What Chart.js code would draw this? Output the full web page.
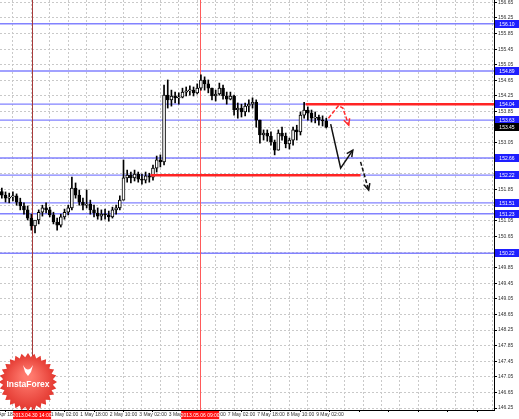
<!DOCTYPE html>
<html>
<head>
<meta charset="utf-8">
<script src="https://cdn.jsdelivr.net/npm/chart.js@4.4.0/dist/chart.umd.min.js"></script>
<style>
  html, body { margin: 0; padding: 0; background: #fff; }
  canvas { display: block; }
</style>
</head>
<body>
<canvas id="priceChart" width="519" height="419"></canvas>
<script>
// 2-hour slots, H1 chart squeezed
const slotCount = 134;
const xTickLabels = ['29 Apr 18:00', '30 Apr 10:00', '1 May 02:00', '1 May 18:00', '2 May 10:00', '3 May 02:00',
  '3 May 18:00', '6 May 10:00', '7 May 02:00', '7 May 18:00', '8 May 10:00', '9 May 02:00'];

const highs = [151.89, 151.79, 151.76, 151.79, 151.74, 151.63, 151.51, 151.43, 151.22, 151.02,
  151.33, 151.45, 151.51, 151.40, 151.27, 151.12, 151.22, 151.35, 151.45, 152.17,
  152.02, 151.84, 151.63, 151.84, 151.58, 151.45, 151.38, 151.33, 151.35, 151.30,
  151.40, 151.45, 151.69, 152.61, 152.35, 152.30, 152.35, 152.30, 152.25, 152.30,
  152.27, 152.48, 152.71, 152.74, 154.53, 154.66, 154.40, 154.35, 154.33, 154.45,
  154.48, 154.51, 154.48, 154.56, 154.79, 154.74, 154.66, 154.45, 154.40, 154.58,
  154.53, 154.35, 154.35, 154.27, 154.07, 154.04, 154.07, 154.15, 154.20, 154.15,
  153.63, 153.38, 153.38, 153.33, 153.12, 153.38, 153.45, 153.30, 153.17, 153.45,
  153.50, 153.84, 154.09, 153.97, 153.89, 153.84, 153.76, 153.74, 153.68];
const lows = [151.63, 151.53, 151.51, 151.56, 151.45, 151.33, 151.22, 151.07, 150.81, 150.74,
  150.97, 151.17, 151.25, 151.15, 150.97, 150.81, 150.89, 151.09, 151.20, 151.33,
  151.63, 151.45, 151.33, 151.38, 151.22, 151.15, 151.09, 151.07, 151.09, 151.04,
  151.12, 151.22, 151.33, 151.58, 152.04, 152.02, 152.07, 152.04, 151.99, 152.02,
  152.04, 152.09, 152.30, 152.43, 152.48, 153.94, 153.99, 154.07, 154.04, 154.20,
  154.25, 154.27, 154.25, 154.30, 154.40, 154.40, 154.33, 154.15, 154.12, 154.27,
  154.17, 154.04, 154.15, 153.76, 153.68, 153.71, 153.74, 153.84, 153.94, 153.45,
  153.04, 153.12, 153.09, 152.99, 152.74, 152.86, 153.12, 152.92, 152.89, 152.99,
  153.12, 153.25, 153.68, 153.63, 153.58, 153.56, 153.50, 153.48, 153.43];
const closes = [151.71, 151.63, 151.66, 151.69, 151.53, 151.43, 151.33, 151.12, 150.92, 151.07,
  151.27, 151.38, 151.33, 151.20, 151.02, 150.94, 151.15, 151.27, 151.38, 151.89,
  151.71, 151.53, 151.45, 151.48, 151.33, 151.25, 151.17, 151.22, 151.20, 151.15,
  151.33, 151.38, 151.58, 152.15, 152.22, 152.15, 152.25, 152.12, 152.09, 152.20,
  152.17, 152.40, 152.61, 152.56, 154.27, 154.15, 154.25, 154.20, 154.22, 154.35,
  154.38, 154.40, 154.33, 154.45, 154.66, 154.56, 154.45, 154.25, 154.30, 154.45,
  154.25, 154.17, 154.25, 153.89, 153.94, 153.84, 153.99, 154.04, 154.09, 153.63,
  153.25, 153.30, 153.22, 153.07, 152.86, 153.30, 153.22, 153.02, 153.12, 153.38,
  153.33, 153.76, 153.89, 153.81, 153.68, 153.71, 153.63, 153.61, 153.45];
const firstOpen = 151.80;

const yTicks = [146.25, 146.65, 147.05, 147.45, 147.85, 148.25, 148.65, 149.05, 149.45, 149.85,
  150.25, 150.65, 151.05, 151.45, 151.85, 152.25, 152.65, 153.05, 153.45, 153.85,
  154.25, 154.65, 155.05, 155.45, 155.85, 156.25, 156.65];

const levels = [156.10, 154.89, 154.04, 153.63, 152.66, 152.22, 151.51, 151.23, 150.22];
const currentPrice = 153.45;

// red resistance / support segments: [fromSlot, toSlot or null = right edge, price]
const redSegments = [[82.4, null, 154.04], [40.3, 97.3, 152.22]];

// cursor lines
const cursorSlots = [8.2, 53.8];
const cursorTexts = ['2013.04.30 14:00', '2013.05.06 09:00'];

// forecast arrows, points as [slot, price]
const redDashArrow = [[88.6, 153.68], [91.3, 154.00], [92.5, 153.94], [94.1, 153.50]];
const blackArrow = [[89.2, 153.53], [91.9, 152.40], [95.2, 152.86]];
const blackDashArrow = [[97.3, 152.56], [99.5, 151.84]];

const slots = Array.from({length: slotCount}, (_, i) => String(i));
const opens = closes.map((c, i) => i === 0 ? firstOpen : closes[i - 1]);

const FONT = 'Liberation Sans';

function arrowHead(ctx, x0, y0, x1, y1, len) {
  const a = Math.atan2(y1 - y0, x1 - x0);
  ctx.setLineDash([]);
  ctx.beginPath();
  ctx.moveTo(x1 - len * Math.cos(a - 0.45), y1 - len * Math.sin(a - 0.45));
  ctx.lineTo(x1, y1);
  ctx.lineTo(x1 - len * Math.cos(a + 0.45), y1 - len * Math.sin(a + 0.45));
  ctx.stroke();
}

function drawPath(chart, pts, color, dash) {
  const {ctx, scales: {x, y}} = chart;
  const p = pts.map(q => [x.getPixelForValue(q[0]), y.getPixelForValue(q[1])]);
  ctx.save();
  ctx.strokeStyle = color;
  ctx.lineWidth = 1.5;
  ctx.setLineDash(dash);
  ctx.beginPath();
  p.forEach((q, i) => i ? ctx.lineTo(q[0], q[1]) : ctx.moveTo(q[0], q[1]));
  ctx.stroke();
  const n = p.length;
  arrowHead(ctx, p[n - 2][0], p[n - 2][1], p[n - 1][0], p[n - 1][1], 7);
  ctx.restore();
}

function tagBox(ctx, left, cy, w, h, bg, text) {
  ctx.fillStyle = bg;
  ctx.fillRect(left, Math.round(cy - h / 2), w, h);
  ctx.fillStyle = '#fff';
  ctx.font = '5px ' + FONT;
  ctx.textBaseline = 'middle';
  ctx.textAlign = 'center';
  ctx.fillText(text, left + w / 2, cy + 0.5);
}

const overlay = {
  id: 'overlay',
  beforeDatasetsDraw(chart) {
    const {ctx, chartArea: a, scales: {x, y}} = chart;
    ctx.save();
    ctx.strokeStyle = '#8282ff';
    ctx.lineWidth = 1.4;
    levels.forEach(v => {
      const py = y.getPixelForValue(v);
      ctx.beginPath();
      ctx.moveTo(a.left, py);
      ctx.lineTo(a.right, py);
      ctx.stroke();
    });
    ctx.lineWidth = 1;
    cursorSlots.forEach((s, i) => {
      const px = Math.round(x.getPixelForValue(s)) + 0.5;
      ctx.strokeStyle = i === 0 ? '#a83a3a' : '#ff5a5a';
      ctx.beginPath();
      ctx.moveTo(px, a.top);
      ctx.lineTo(px, a.bottom);
      ctx.stroke();
    });
    ctx.restore();
  },
  afterDatasetsDraw(chart) {
    const {ctx, chartArea: a, scales: {x, y}} = chart;
    ctx.save();
    ctx.strokeStyle = '#ff2424';
    ctx.lineWidth = 2.5;
    redSegments.forEach(([s0, s1, v]) => {
      const py = y.getPixelForValue(v);
      ctx.beginPath();
      ctx.moveTo(x.getPixelForValue(s0), py);
      ctx.lineTo(s1 === null ? a.right : x.getPixelForValue(s1), py);
      ctx.stroke();
    });
    ctx.restore();
    drawPath(chart, redDashArrow, '#ff2a2a', [4, 2]);
    drawPath(chart, blackArrow, '#111', []);
    drawPath(chart, blackDashArrow, '#111', [4, 2]);
  },
  afterDraw(chart) {
    const {ctx, chartArea: a, scales: {x, y}} = chart;
    ctx.save();
    levels.forEach(v => tagBox(ctx, a.right + 1, y.getPixelForValue(v), 24, 8, '#1e1eff', v.toFixed(2)));
    tagBox(ctx, a.right + 1, y.getPixelForValue(currentPrice), 24, 8, '#000', currentPrice.toFixed(2));
    cursorSlots.forEach((s, i) => {
      const px = x.getPixelForValue(s);
      tagBox(ctx, px - 19, a.bottom + 5, 38, 8, '#ff1010', cursorTexts[i]);
    });

    // InstaForex badge
    const cx = 28, cy = 382, ro = 29, ri = 25, n = 28;
    const g = ctx.createRadialGradient(cx, cy - 6, 4, cx, cy, ro);
    g.addColorStop(0, '#ff7a6e');
    g.addColorStop(1, '#e2352d');
    ctx.fillStyle = g;
    ctx.beginPath();
    for (let k = 0; k < n * 2; k++) {
      const r = k % 2 ? ri : ro;
      const ang = Math.PI * k / n - Math.PI / 2;
      const px = cx + r * Math.cos(ang), py = cy + r * Math.sin(ang);
      k ? ctx.lineTo(px, py) : ctx.moveTo(px, py);
    }
    ctx.closePath();
    ctx.fill();
    ctx.fillStyle = '#fff';
    ctx.beginPath();
    ctx.moveTo(cx - 5, cy - 17);
    ctx.quadraticCurveTo(cx, cy - 8, cx + 5, cy - 17);
    ctx.lineTo(cx + 3, cy - 10);
    ctx.lineTo(cx, cy - 6);
    ctx.lineTo(cx - 3, cy - 10);
    ctx.closePath();
    ctx.fill();
    ctx.font = 'bold 8.5px ' + FONT;
    ctx.textAlign = 'center';
    ctx.textBaseline = 'middle';
    ctx.fillText('InstaForex', cx, cy + 3);
    ctx.restore();
  }
};

const ctx = document.getElementById('priceChart').getContext('2d');
new Chart(ctx, {
  type: 'bar',
  data: {
    labels: slots,
    datasets: [{
      label: 'wick',
      data: lows.map((l, i) => [l, highs[i]]),
      backgroundColor: '#000',
      barThickness: 1,
      grouped: false,
      order: 2
    }, {
      label: 'body',
      data: opens.map((o, i) => [o, closes[i]]),
      backgroundColor: opens.map((o, i) => closes[i] >= o ? '#fff' : '#000'),
      borderColor: '#000',
      borderWidth: 1,
      borderSkipped: false,
      barThickness: 3,
      minBarLength: 1,
      grouped: false,
      order: 1
    }]
  },
  options: {
    responsive: false,
    animation: false,
    devicePixelRatio: 1,
    layout: { padding: 0 },
    plugins: { legend: { display: false }, tooltip: { enabled: false } },
    scales: {
      x: {
        offset: true,
        grid: {
          offset: false,
          color: c => c.index % 5 === 3 ? '#c9c9c9' : 'rgba(0,0,0,0)',
          tickLength: 2,
          tickColor: c => c.index % 8 === 1 ? '#000' : 'rgba(0,0,0,0)'
        },
        border: { display: true, color: '#000', width: 1, dash: [2, 2] },
        ticks: {
          autoSkip: false,
          maxRotation: 0,
          minRotation: 0,
          padding: 0,
          color: '#333',
          font: { size: 5, family: FONT },
          callback: (v, i) => (i % 8 === 1 && (i - 1) / 8 < xTickLabels.length) ? xTickLabels[(i - 1) / 8] : ''
        },
        afterFit: s => { s.height = 9; s.paddingLeft = 0; s.paddingRight = 0; }
      },
      y: {
        type: 'linear',
        position: 'right',
        min: 146.20,
        max: 156.71,
        afterBuildTicks: s => { s.ticks = yTicks.map(v => ({ value: v })); },
        grid: { color: '#c9c9c9', tickLength: 3, tickColor: '#000' },
        border: { display: true, color: '#000', width: 1, dash: [2, 2] },
        ticks: {
          padding: 1,
          color: '#333',
          font: { size: 5, family: FONT },
          callback: v => Number(v).toFixed(2)
        },
        afterFit: s => { s.width = 25; s.paddingTop = 0; s.paddingBottom = 0; }
      }
    }
  },
  plugins: [overlay]
});
</script>
</body>
</html>
